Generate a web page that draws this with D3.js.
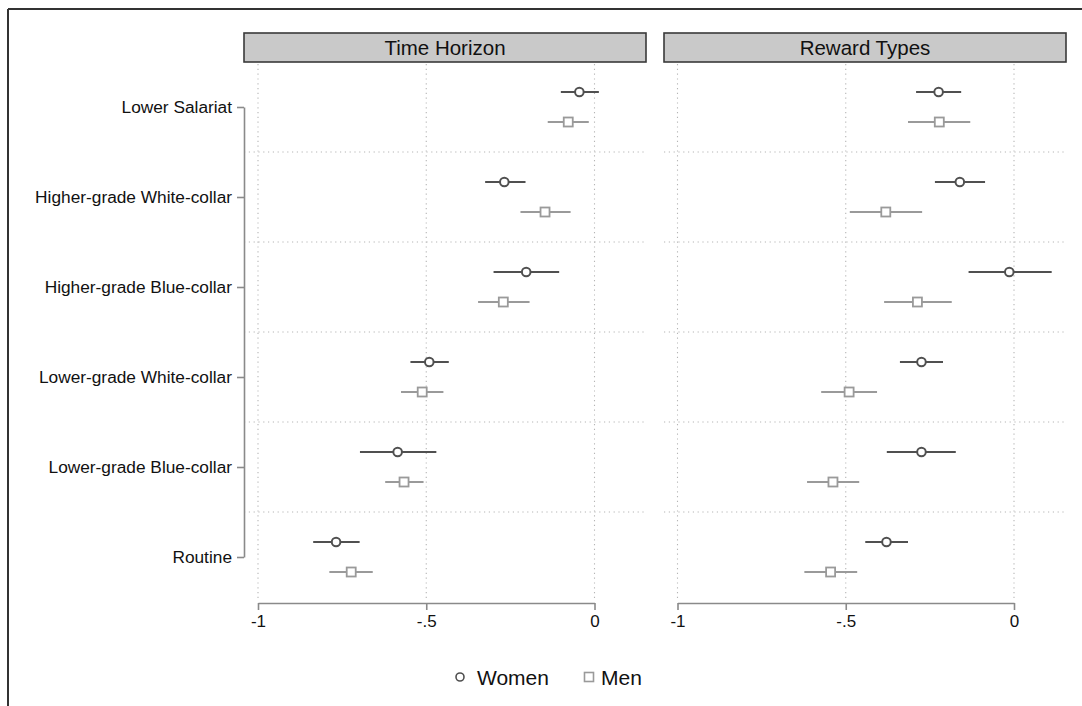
<!DOCTYPE html>
<html><head><meta charset="utf-8">
<script src="https://cdn.jsdelivr.net/npm/d3@7"></script>
<style>body{margin:0;background:#fff}svg{display:block;font-family:"Liberation Sans",Arial,sans-serif}</style>
</head><body><svg id="c" width="1082" height="706"></svg>
<script>
const categories = ["Lower Salariat","Higher-grade White-collar","Higher-grade Blue-collar","Lower-grade White-collar","Lower-grade Blue-collar","Routine"];
const panels = ["Time Horizon","Reward Types"];
const seriesNames = ["Women","Men"];
const xTicks = [-1,-0.5,0];
const xTickLabels = ["-1","-.5","0"];
// Time Horizon: [estimate, lower, upper]
const thWomen = [[-0.045,-0.10,0.013],[-0.268,-0.325,-0.205],[-0.203,-0.30,-0.105],[-0.491,-0.547,-0.433],[-0.585,-0.697,-0.47],[-0.768,-0.836,-0.698]];
const thMen   = [[-0.078,-0.139,-0.017],[-0.147,-0.22,-0.071],[-0.271,-0.346,-0.193],[-0.512,-0.575,-0.449],[-0.566,-0.622,-0.508],[-0.723,-0.788,-0.659]];
// Reward Types
const rtWomen = [[-0.224,-0.291,-0.157],[-0.161,-0.235,-0.086],[-0.014,-0.135,0.112],[-0.275,-0.339,-0.211],[-0.275,-0.378,-0.173],[-0.379,-0.442,-0.315]];
const rtMen   = [[-0.222,-0.315,-0.13],[-0.381,-0.488,-0.273],[-0.287,-0.386,-0.185],[-0.49,-0.573,-0.407],[-0.538,-0.615,-0.46],[-0.545,-0.623,-0.466]];

const panelData = [[thWomen,thMen],[rtWomen,rtMen]];
const colors = ["#505050","#9a9a9a"];
const svg = d3.select("#c");

// outer frame
svg.append("line").attr("x1",8).attr("x2",1082).attr("y1",9).attr("y2",9).attr("stroke","#333").attr("stroke-width",2);
svg.append("line").attr("x1",8).attr("x2",8).attr("y1",9).attr("y2",706).attr("stroke","#333").attr("stroke-width",2);

const y = d3.scaleBand().domain(categories).range([62,602]).padding(0);
const offs = [-15,15];
const panelBox = [[244,646],[664,1066]];
const xRanges = [[258,594.5],[677.5,1014]];

panels.forEach((p,pi)=>{
  const [bx0,bx1] = panelBox[pi];
  const x = d3.scaleLinear().domain([-1,0]).range(xRanges[pi]);
  const g = svg.append("g");
  // header
  g.append("rect").attr("x",bx0).attr("y",33).attr("width",bx1-bx0).attr("height",29)
    .attr("fill","#c9c9c9").attr("stroke","#3a3a3a").attr("stroke-width",1.6);
  g.append("text").attr("x",(bx0+bx1)/2).attr("y",55).attr("text-anchor","middle")
    .attr("font-size",20.5).attr("fill","#111").text(p);
  // vertical grid
  g.selectAll(".vg").data(xTicks).join("line")
    .attr("x1",d=>x(d)).attr("x2",d=>x(d)).attr("y1",64).attr("y2",600)
    .attr("stroke","#b5b5b5").attr("stroke-width",1.1).attr("stroke-dasharray","1.2,3.6");
  // horizontal grid between categories
  g.selectAll(".hg").data(categories.slice(1)).join("line")
    .attr("x1",bx0).attr("x2",bx1).attr("y1",d=>y(d)).attr("y2",d=>y(d))
    .attr("stroke","#b5b5b5").attr("stroke-width",1.1).attr("stroke-dasharray","1.2,3.6");
  // bottom axis
  const ax = g.append("g").attr("transform","translate(0,603)")
    .call(d3.axisBottom(x).tickValues(xTicks).tickFormat((d,i)=>xTickLabels[i]).tickSize(7).tickSizeOuter(0));
  ax.select(".domain").attr("stroke","#8a8a8a").attr("stroke-width",1.6);
  ax.selectAll(".tick line").attr("stroke","#8a8a8a").attr("stroke-width",1.6);
  ax.selectAll("text").attr("font-size",17).attr("fill","#111").attr("dy","0.85em").attr("font-family","Liberation Sans, Arial, sans-serif");
  // series
  panelData[pi].forEach((ser,si)=>{
    const sg = g.append("g");
    sg.selectAll("line.ci").data(ser).join("line")
      .attr("x1",d=>x(d[1])).attr("x2",d=>x(d[2]))
      .attr("y1",(d,i)=>y(categories[i])+y.bandwidth()/2+offs[si])
      .attr("y2",(d,i)=>y(categories[i])+y.bandwidth()/2+offs[si])
      .attr("stroke",colors[si]).attr("stroke-width",2.2);
    if(si===0){
      sg.selectAll("circle").data(ser).join("circle")
        .attr("cx",d=>x(d[0])).attr("cy",(d,i)=>y(categories[i])+y.bandwidth()/2+offs[si])
        .attr("r",4.3).attr("fill","#fff").attr("stroke",colors[si]).attr("stroke-width",2);
    } else {
      sg.selectAll("rect").data(ser).join("rect")
        .attr("x",d=>x(d[0])-4.5).attr("y",(d,i)=>y(categories[i])+y.bandwidth()/2+offs[si]-4.5)
        .attr("width",9).attr("height",9).attr("fill","#fff").attr("stroke",colors[si]).attr("stroke-width",1.8);
    }
  });
});

// left axis
const ay = svg.append("g").attr("transform","translate(244,0)")
  .call(d3.axisLeft(d3.scalePoint().domain(categories).range([107,557])).tickSize(7).tickSizeOuter(0));
ay.select(".domain").attr("stroke","#8a8a8a").attr("stroke-width",1.6);
ay.selectAll(".tick line").attr("stroke","#8a8a8a").attr("stroke-width",1.6);
ay.selectAll("text").attr("font-size",17.3).attr("fill","#111").attr("x",-12).attr("font-family","Liberation Sans, Arial, sans-serif");

// legend
const lg = svg.append("g");
lg.append("circle").attr("cx",460).attr("cy",677).attr("r",4).attr("fill","#fff").attr("stroke","#505050").attr("stroke-width",1.6);
lg.append("text").attr("x",477).attr("y",684.5).attr("font-size",21).attr("fill","#111").text(seriesNames[0]);
lg.append("rect").attr("x",584.5).attr("y",672.5).attr("width",9).attr("height",9).attr("fill","#fff").attr("stroke","#9a9a9a").attr("stroke-width",1.6);
lg.append("text").attr("x",601).attr("y",684.5).attr("font-size",21).attr("fill","#111").text(seriesNames[1]);
</script></body></html>
